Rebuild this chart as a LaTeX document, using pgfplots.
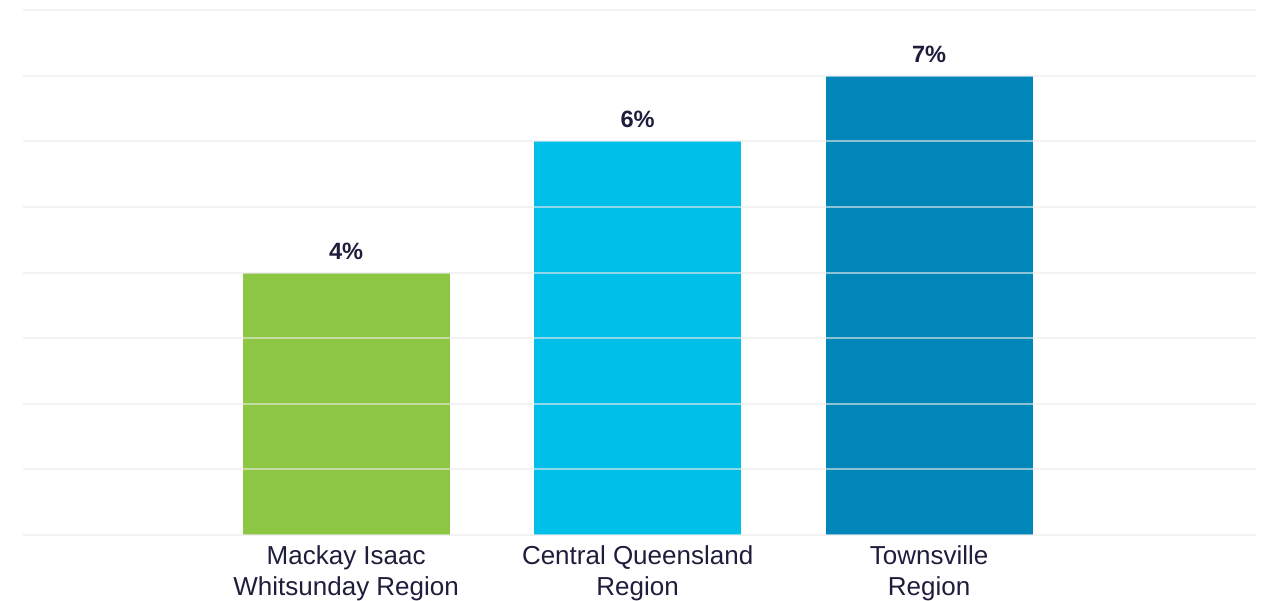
\documentclass[border=0pt]{standalone}
\usepackage{pgfplots}
\pgfplotsset{compat=1.18}
\usepackage{fontspec}
\setmainfont{Liberation Sans}
\definecolor{cgreen}{HTML}{8DC642}
\definecolor{ccyan}{HTML}{00C0EA}
\definecolor{cblue}{HTML}{0086B8}
\definecolor{ctext}{HTML}{1E1E3C}
\definecolor{cgrid}{HTML}{EAEAEA}
\begin{document}
\begin{tikzpicture}
\begin{axis}[
  at={(11.3pt,32.5pt)}, anchor=south west,
  scale only axis, width=616.5pt, height=262.5pt,
  xmin=-1.11, xmax=3.12, ymin=0, ymax=8,
  axis line style={draw=none},
  ytick={0,1,...,8}, yticklabels={},
  ymajorgrids, grid style={draw=cgrid, line width=1pt, opacity=0.6},
  axis on top,
  xtick={0,1,2},
  xticklabels={Mackay Isaac\\Whitsunday Region, Central Queensland\\Region, Townsville\\Region},
  major tick length=0pt,
  xticklabel style={align=center, font=\fontsize{13}{15.5}\selectfont, text=ctext, yshift=-2pt},
  /pgf/number format/assume math mode=true,
  ybar, bar width=103.5pt, bar shift=0pt,
  nodes near coords={\pgfmathprintnumber{\pgfplotspointmeta}\%},
  every node near coord/.append style={font=\bfseries\fontsize{11.8}{14}\selectfont, text=ctext, yshift=3pt},
  clip=false,
]
\addplot[fill=cgreen, draw=none] coordinates {(0,4)};
\addplot[fill=ccyan, draw=none] coordinates {(1,6)};
\addplot[fill=cblue, draw=none] coordinates {(2,7)};
\end{axis}
\pgfresetboundingbox
\path[use as bounding box] (0,0) rectangle (631pt,300pt);
\end{tikzpicture}
\end{document}
